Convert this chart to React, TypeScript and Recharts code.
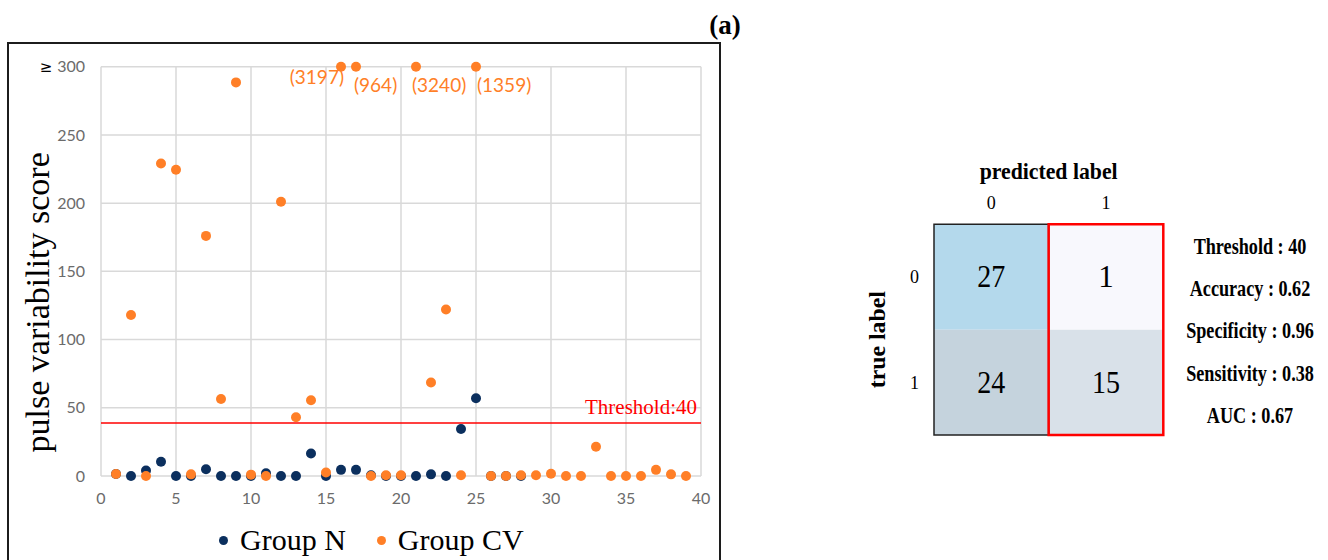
import React from "react";
import {
  ScatterChart, Scatter, XAxis, YAxis, CartesianGrid, ReferenceLine, Legend, LabelList,
  ComposedChart, ReferenceArea,
} from "recharts";

// pulse variability score per subject (index + 1 = subject no.)
const GROUP_N = [1.5, 0, 4, 10.5, 0, 0, 5, 0, 0, 0, 2, 0, 0, 16.5, 0, 4.5, 4.5, 0.5, 0, 0, 0, 1.2, 0, 34.5, 57, 0, 0, 0];
const GROUP_CV = [1.5, 118, 0, 229, 224.5, 1.2, 176, 56.5, 288.5, 1, 0, 201, 43, 55.5, 2.5, 3197, 964, 0, 0.5, 0.5,
  3240, 68.5, 122, 0.5, 1359, 0, 0, 0.5, 0.5, 1.7, 0, 0, 21.5, 0, 0, 0, 4.5, 1.2, 0];
const Y_CAP = 300;
const Y_TICKS = [0, 50, 100, 150, 200, 250, 300];
const X_TICKS = [0, 5, 10, 15, 20, 25, 30, 35, 40];
const THRESHOLD_LABEL = "Threshold:40";
const THRESHOLD_LINE = 38.8;

// confusion matrix (rows = true label, cols = predicted label)
const PRED_LABELS = ["0", "1"];
const TRUE_LABELS = ["0", "1"];
const CM = [[27, 1], [24, 15]];
const CM_COLORS = [["#b4d9ec", "#f8f8fd"], ["#c5d3dd", "#d9e1e9"]];
const METRICS = ["Threshold : 40", "Accuracy : 0.62", "Specificity : 0.96", "Sensitivity : 0.38", "AUC : 0.67"];

const NAVY = "#0b2f5e";
const ORANGE = "#ff7f27";
const SERIF = '"Liberation Serif", "Times New Roman", serif';
const SANS = 'Lato, "Open Sans", sans-serif';

const nData = GROUP_N.map((v, i) => ({ x: i + 1, y: Math.min(v, Y_CAP), raw: v }));
const cvData = GROUP_CV.map((v, i) => ({ x: i + 1, y: Math.min(v, Y_CAP), raw: v }));
const cells = CM.flatMap((row, i) => row.map((v, j) => ({ px: j + 0.5, ty: i + 0.5, v })));

// where the "(value)" notes sit around capped points
const NOTE_POS: Record<number, { dx: number; dy: number; anchor: "start" | "end" }> = {
  16: { dx: 3, dy: 10, anchor: "end" },
  17: { dx: -2, dy: 18, anchor: "start" },
  21: { dx: -4, dy: 18, anchor: "start" },
  25: { dx: 1, dy: 18, anchor: "start" },
};

const dot = (color: string) => (p: any) => <circle cx={p.cx} cy={p.cy} r={5} fill={color} />;

const CapNote = (p: any) => {
  const d = cvData[p.index];
  if (!d || d.raw <= Y_CAP) return null;
  const vb = p.viewBox || p;
  const cx = vb.x + (vb.width || 0) / 2;
  const cy = vb.y + (vb.height || 0) / 2;
  const pos = NOTE_POS[d.x] || { dx: 0, dy: 18, anchor: "start" };
  return (
    <text x={cx + pos.dx} y={cy + pos.dy} textAnchor={pos.anchor} dominantBaseline="central"
      fontFamily={SANS} fontSize={19} fill={ORANGE}>({d.raw})</text>
  );
};

const YTick = (p: any) => (
  <text x={p.x} y={p.y} dy="0.355em" textAnchor="end" fontFamily={SANS} fontSize={16} fill="#6b6b6b">
    {p.payload.value === Y_CAP ? <tspan fill="#000" fontFamily="DejaVu Sans" fontSize={15}>≥ </tspan> : null}
    {p.payload.value}
  </text>
);

const PredTick = (p: any) => (
  <text x={p.x} y={p.y - 6} textAnchor="middle" fontFamily={SERIF} fontSize={18} fill="#000">
    {PRED_LABELS[Math.floor(p.payload.value)]}
  </text>
);

const TrueTick = (p: any) => (
  <text x={p.x} y={p.y} dy="0.355em" textAnchor="end" fontFamily={SERIF} fontSize={18} fill="#000">
    {TRUE_LABELS[Math.floor(p.payload.value)]}
  </text>
);

const CountText = (p: any) => (
  <text x={p.cx} y={p.cy} textAnchor="middle" dominantBaseline="central" fontFamily={SERIF} fontSize={31}
    textLength={p.payload.v >= 10 ? 28 : undefined} lengthAdjust="spacingAndGlyphs" fill="#000">
    {p.payload.v}
  </text>
);

const renderLegend = () => (
  <div style={{ display: "flex", alignItems: "center", height: 40, paddingLeft: 219, fontFamily: SERIF, fontSize: 30, color: "#000" }}>
    {[{ name: "Group N", color: NAVY }, { name: "Group CV", color: ORANGE }].map((s) => (
      <span key={s.name} style={{ display: "flex", alignItems: "center", marginRight: 31 }}>
        <span style={{ width: 9, height: 9, borderRadius: "50%", background: s.color, marginRight: 12 }} />
        {s.name}
      </span>
    ))}
  </div>
);

export default function App() {
  return (
    <div style={{ position: "fixed", left: 0, top: 0, width: 1328, height: 560, background: "#fff", overflow: "hidden" }}>
      <div style={{ position: "absolute", left: 7, top: 42, width: 714, height: 540, border: "2px solid #1c1c1c", boxSizing: "border-box" }} />
      <div style={{ position: "absolute", left: 690, top: 8, width: 70, textAlign: "center", fontFamily: SERIF, fontWeight: "bold", fontSize: 27, lineHeight: "34px" }}>(a)</div>

      <div style={{ position: "absolute", left: 0, top: 0 }}>
        <ScatterChart width={730} height={560} margin={{ top: 66.7, right: 29, bottom: 14, left: 0 }}>
          <CartesianGrid stroke="#d9d9d9" strokeWidth={1.5} />
          <XAxis type="number" dataKey="x" domain={[0, 40]} ticks={X_TICKS} height={30} axisLine={false} tickLine={false}
            tickMargin={11} tick={{ fontFamily: SANS, fontSize: 16, fill: "#6b6b6b" }} />
          <YAxis type="number" dataKey="y" domain={[0, Y_CAP]} ticks={Y_TICKS} width={101} axisLine={false} tickLine={false}
            tickMargin={10} tick={<YTick />}
            label={{
              content: (p: any) => {
                const vb = p.viewBox;
                const x = vb.x + 38;
                const y = vb.y + vb.height / 2 + 31;
                return (
                  <text x={x} y={y} transform={`rotate(-90 ${x} ${y})`} textAnchor="middle" dominantBaseline="central"
                    fontFamily={SERIF} fontSize={34} fill="#000">pulse variability score</text>
                );
              },
            }} />
          <ReferenceLine y={THRESHOLD_LINE} stroke="#ff0000" strokeWidth={1.5}
            label={{
              content: (p: any) => {
                const vb = p.viewBox;
                return (
                  <text x={vb.x + vb.width - 4} y={vb.y - 9} textAnchor="end" fontFamily={SERIF} fontSize={21} fill="#ff0000">
                    {THRESHOLD_LABEL}
                  </text>
                );
              },
            }} />
          <Legend verticalAlign="bottom" height={40} content={renderLegend} wrapperStyle={{ left: 0, bottom: 0, width: 730, height: 40 }} />
          <Scatter name="Group N" data={nData} fill={NAVY} shape={dot(NAVY)} isAnimationActive={false} />
          <Scatter name="Group CV" data={cvData} fill={ORANGE} shape={dot(ORANGE)} isAnimationActive={false}>
            <LabelList dataKey="raw" content={<CapNote />} />
          </Scatter>
        </ScatterChart>
      </div>

      <div style={{ position: "absolute", left: 840, top: 130 }}>
        <ComposedChart width={488} height={330} data={cells} margin={{ top: 34.3, right: 164.7, bottom: 25, left: 14 }}>
          <XAxis type="number" dataKey="px" xAxisId="p" orientation="top" domain={[0, 2]} ticks={[0.5, 1.5]} height={60}
            allowDataOverflow axisLine={false} tickLine={false} tickMargin={3} tick={<PredTick />}
            label={{
              content: (p: any) => {
                const vb = p.viewBox;
                return (
                  <text x={vb.x + vb.width / 2} y={vb.y + 6.4} textAnchor="middle" dominantBaseline="central"
                    fontFamily={SERIF} fontWeight="bold" fontSize={24} textLength={138} lengthAdjust="spacingAndGlyphs" fill="#000">predicted label</text>
                );
              },
            }} />
          <YAxis type="number" dataKey="ty" yAxisId="t" domain={[0, 2]} reversed ticks={[0.5, 1.5]} width={80}
            allowDataOverflow axisLine={false} tickLine={false} tickMargin={9} tick={<TrueTick />}
            label={{
              content: (p: any) => {
                const vb = p.viewBox;
                const x = vb.x + 22.7;
                const y = vb.y + vb.height / 2 + 10;
                return (
                  <text x={x} y={y} transform={`rotate(-90 ${x} ${y})`} textAnchor="middle" dominantBaseline="central"
                    fontFamily={SERIF} fontWeight="bold" fontSize={24} textLength={97} lengthAdjust="spacingAndGlyphs" fill="#000">true label</text>
                );
              },
            }} />
          {cells.map((c) => (
            <ReferenceArea key={`${c.px}-${c.ty}`} xAxisId="p" yAxisId="t" x1={c.px - 0.5} x2={c.px + 0.5} y1={c.ty - 0.5} y2={c.ty + 0.5}
              fill={CM_COLORS[c.ty - 0.5][c.px - 0.5]} fillOpacity={1} stroke="none" ifOverflow="visible" />
          ))}
          <ReferenceArea xAxisId="p" yAxisId="t" x1={0} x2={1} y1={0} y2={2} fill="none" stroke="#222" strokeWidth={1.5} ifOverflow="visible" />
          <ReferenceArea xAxisId="p" yAxisId="t" x1={1} x2={2} y1={0} y2={2} fill="none" stroke="#ff0000" strokeWidth={2.5} ifOverflow="visible" />
          <Scatter xAxisId="p" yAxisId="t" dataKey="ty" data={cells} shape={<CountText />} isAnimationActive={false} />
        </ComposedChart>
      </div>

      {METRICS.map((m, i) => (
        <div key={m} style={{
          position: "absolute", left: 1150, width: 200, top: 246.7 + i * 42.3 - 15, height: 30, lineHeight: "30px",
          textAlign: "center", fontFamily: SERIF, fontWeight: "bold", fontSize: 23, transform: "scaleX(0.79)", color: "#000",
        }}>{m}</div>
      ))}
    </div>
  );
}
